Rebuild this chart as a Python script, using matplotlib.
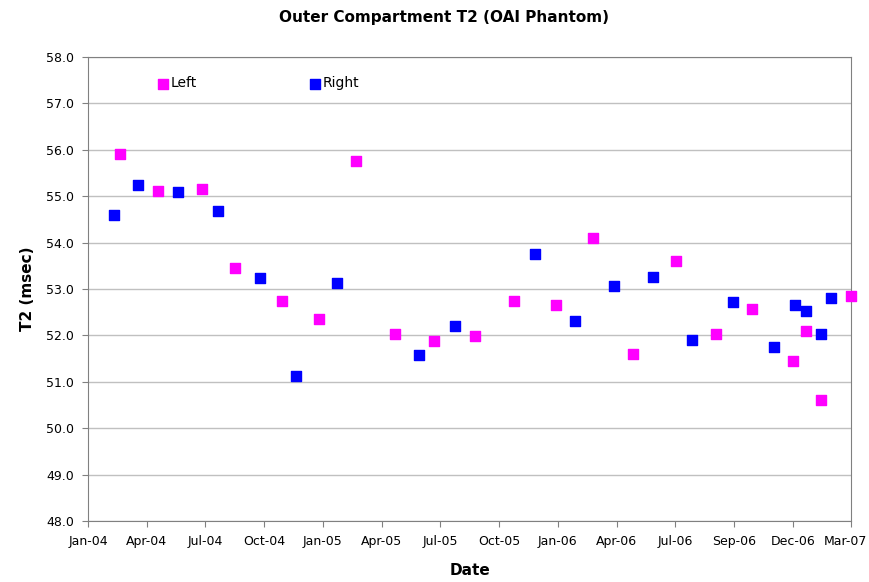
import pandas as pd
import numpy as np
import matplotlib
matplotlib.use("Agg")
import matplotlib.pyplot as plt
import matplotlib.dates as mdates
import matplotlib.transforms as mtransforms

# Data (scan dates and T2 values)
left_dates = ["2004-03-03", "2004-05-01", "2004-07-07", "2004-08-27", "2004-11-07",
              "2005-01-02", "2005-02-27", "2005-04-29", "2005-06-28", "2005-08-29",
              "2005-10-28", "2005-12-31", "2006-02-26", "2006-04-28", "2006-07-03",
              "2006-09-02", "2006-10-28", "2006-12-29", "2007-01-18", "2007-02-10",
              "2007-03-29"]
left_t2 = [55.92, 55.11, 55.16, 53.45, 52.74,
           52.35, 55.75, 52.04, 51.89, 51.99,
           52.75, 52.66, 54.10, 51.60, 53.61,
           52.03, 52.57, 51.44, 52.10, 50.60,
           52.86]

right_dates = ["2004-02-23", "2004-03-31", "2004-05-31", "2004-07-31", "2004-10-04",
               "2004-11-28", "2005-01-30", "2005-06-05", "2005-07-29", "2005-11-29",
               "2006-01-29", "2006-03-30", "2006-05-29", "2006-07-28", "2006-09-29",
               "2006-11-30", "2007-01-01", "2007-01-18", "2007-02-10", "2007-02-26"]
right_t2 = [54.59, 55.24, 55.10, 54.68, 53.23,
            51.13, 53.14, 51.58, 52.21, 53.76,
            52.31, 53.06, 53.25, 51.90, 52.72,
            51.74, 52.66, 52.52, 52.04, 52.80]

# Excel-style axis: min 2004-01-14, major unit 90 days
x_start = "2004-01-14"
x_step_days = 90
x_labels = ["Jan-04", "Apr-04", "Jul-04", "Oct-04", "Jan-05", "Apr-05", "Jul-05",
            "Oct-05", "Jan-06", "Apr-06", "Jul-06", "Sep-06", "Dec-06", "Mar-07"]
y_ticks = np.arange(48.0, 58.01, 1.0)

left_x = mdates.date2num(pd.to_datetime(left_dates))
right_x = mdates.date2num(pd.to_datetime(right_dates))
x0 = mdates.date2num(pd.Timestamp(x_start))
x_ticks = x0 + x_step_days * np.arange(len(x_labels))

fig = plt.figure(figsize=(8.7, 5.82), dpi=100)
ax = fig.add_axes([0.1011, 0.1048, 0.8776, 0.7972])

ax.scatter(left_x, left_t2, marker="s", s=62, color="#FF00FF", label="Left",
           zorder=3, clip_on=False)
ax.scatter(right_x, right_t2, marker="s", s=62, color="#0000FF", label="Right",
           zorder=3, clip_on=False)

ax.set_xlim(x_ticks[0], x_ticks[-1])
ax.set_ylim(48, 58)
ax.set_xticks(x_ticks)
ax.set_xticklabels(x_labels)
ax.set_yticks(y_ticks)
ax.set_yticklabels([f"{v:.1f}" for v in y_ticks])

ax.yaxis.grid(True, color="#c0c0c0", linewidth=1.0)
ax.set_axisbelow(True)
for side in ["left", "bottom", "right", "top"]:
    ax.spines[side].set_color("#808080")
ax.tick_params(axis="both", direction="out", length=4, color="#808080",
               labelsize=9, pad=6)

# last date label sits at the figure edge, nudge it in a little
last = ax.get_xticklabels()[-1]
last.set_transform(last.get_transform() +
                   mtransforms.ScaledTranslation(-6 / 100, 0, fig.dpi_scale_trans))

fig.suptitle("Outer Compartment T2 (OAI Phantom)", x=0.51, y=0.982,
             fontsize=11, fontweight="bold")
ax.set_xlabel("Date", fontsize=11, fontweight="bold", labelpad=11)
ax.set_ylabel("T2 (msec)", fontsize=11, fontweight="bold", labelpad=8)

ax.legend(loc="upper left", bbox_to_anchor=(0.073, 0.985), ncol=2, frameon=False,
          fontsize=10, handletextpad=0.05, columnspacing=8.0, scatterpoints=1,
          handlelength=1.0)

fig.savefig("out.png", dpi=100)
